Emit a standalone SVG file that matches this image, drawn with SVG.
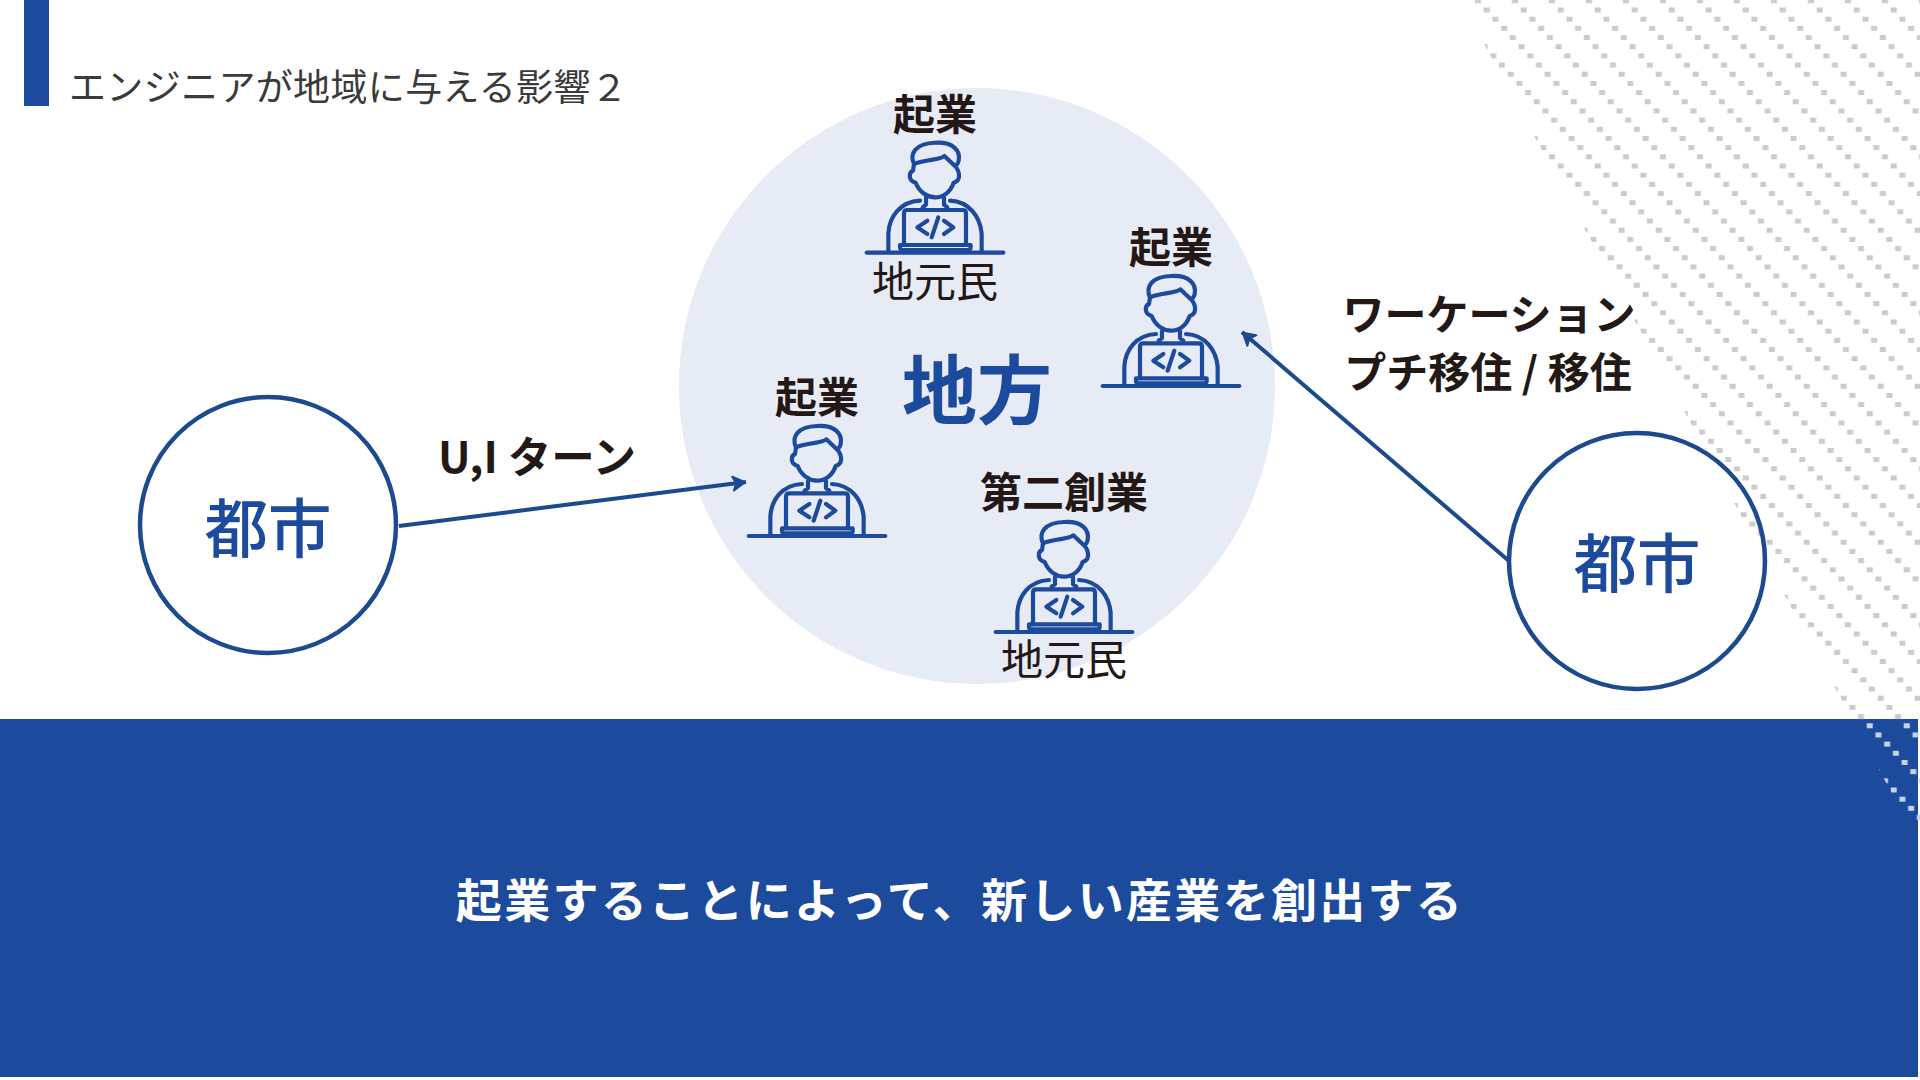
<svg xmlns="http://www.w3.org/2000/svg" width="1920" height="1080" viewBox="0 0 1920 1080">
<style>
text{font-family:"Noto Sans CJK JP","Noto Sans",sans-serif}
.k{fill:#231815}
.b{font-weight:700;font-size:42px;text-anchor:middle}
.r{font-weight:400;font-size:42px;text-anchor:middle}
.city{fill:#1c4a9c;font-size:63.5px;font-weight:500;text-anchor:middle}
.ring{fill:none;stroke:#1c4a8f;stroke-width:4.5}
.ic{fill:none;stroke:#1c4a9c;stroke-width:12.5;stroke-linecap:round;stroke-linejoin:round}
.con{fill:none;stroke:#1c4a8f;stroke-width:4}
</style>
<defs>
<g id="tile">
<rect x="1" y="0.5" width="6" height="5"/><rect x="9.71" y="9.68" width="6" height="5"/><rect x="18.41" y="18.85" width="6" height="5"/><rect x="27.12" y="28.03" width="6" height="5"/><rect x="35.82" y="37.21" width="6" height="5"/><rect x="-1.18" y="37.21" width="6" height="5"/><rect x="7.53" y="46.38" width="6" height="5"/><rect x="16.24" y="55.56" width="6" height="5"/><rect x="24.94" y="64.74" width="6" height="5"/><rect x="33.65" y="73.91" width="6" height="5"/><rect x="-3.35" y="73.91" width="6" height="5"/><rect x="5.35" y="83.09" width="6" height="5"/><rect x="14.06" y="92.26" width="6" height="5"/><rect x="22.76" y="101.44" width="6" height="5"/><rect x="31.47" y="110.62" width="6" height="5"/><rect x="-5.53" y="110.62" width="6" height="5"/><rect x="3.18" y="119.79" width="6" height="5"/><rect x="11.88" y="128.97" width="6" height="5"/><rect x="20.59" y="138.15" width="6" height="5"/><rect x="29.29" y="147.32" width="6" height="5"/>
</g>
<pattern id="dg" patternUnits="userSpaceOnUse" width="37" height="156" patternTransform="translate(1482.7 7)"><use href="#tile" fill="#cbcbcb"/></pattern>
<pattern id="dl" patternUnits="userSpaceOnUse" width="37" height="156" patternTransform="translate(1482.7 7)"><use href="#tile" fill="#c9d2e5"/></pattern>
<marker id="ah" markerUnits="userSpaceOnUse" markerWidth="20" markerHeight="20" refX="15" refY="10" orient="auto"><path d="M2 3L14 10L2 17L5 10Z" fill="#1c4a8f" stroke="#1c4a8f" stroke-width="2" stroke-linejoin="round"/></marker>
<g id="eng" transform="scale(.3333) translate(-285 -368)">
<path class="ic" d="M222 102C208 72 225 40 285 38C340 35 362 62 356 92C354 102 348 108 343 106L313 78C298 92 260 86 222 102Z"/>
<path class="ic" d="M222 102L219 122C205 128 205 152 227 158C238 186 262 202 285 202C310 202 332 186 341 158C362 152 362 128 345 107"/>
<path class="ic" d="M258 203V224L248 232M312 203V224L322 232"/>
<path class="ic" d="M145 362V310C148 260 180 215 240 212M425 362V310C420 260 388 215 330 212"/>
<path class="ic" d="M192 345V250Q192 240 202 240H368Q378 240 378 250V345"/>
<path class="ic" d="M180 345H392V352Q392 360 384 360H188Q180 360 180 352Z"/>
<path class="ic" d="M262 272L232 292L262 312M312 272L340 292L312 312M295 262L275 322"/>
<path class="ic" d="M80 368H490"/>
</g>
</defs>
<rect width="1920" height="1080" fill="#fff"/>
<g id="decor">
<polygon points="1460,0 1920,0 1920,719 1852,719" fill="url(#dg)"/>
<rect y="719" width="1918" height="358" fill="#1c4a9c"/>
<polygon points="1852,719 1920,719 1920,846" fill="url(#dl)"/>
<rect x="24" width="25" height="106" fill="#1c4a9c"/>
<text x="69" y="101" font-size="37" letter-spacing=".35" fill="#3a3a3a">エンジニアが地域に与える影響２</text>
<text x="960" y="917" font-size="46" font-weight="700" fill="#fff" text-anchor="middle" letter-spacing="2.3">起業することによって、新しい産業を創出する</text>
</g>
<g id="region"><circle cx="977" cy="386" r="298" fill="#e6ebf5"/><text x="977" y="418" font-size="75" font-weight="700" fill="#1c4a9c" text-anchor="middle">地方</text></g>
<g id="city-left"><circle class="ring" cx="268" cy="525" r="128"/><text class="city" x="268" y="552">都市</text></g>
<g id="city-right"><circle class="ring" cx="1637" cy="561" r="128"/><text class="city" x="1637" y="587">都市</text></g>
<g id="connectors">
<path class="con" d="M399 526L746 482" marker-end="url(#ah)"/>
<path class="con" d="M1509 561L1242 332" marker-end="url(#ah)"/>
</g>
<g id="label-ui"><text class="k b" x="537" y="473" style="font-size:43.5px">U,I ターン</text></g>
<g id="label-work"><text class="k b" x="1489" y="330">ワーケーション</text><text class="k b" x="1488" y="388">プチ移住 / 移住</text></g>
<g id="eng1"><use href="#eng" transform="translate(935 252.7)"/><text class="k b" x="935" y="130">起業</text><text class="k r" x="935" y="297">地元民</text></g>
<g id="eng2"><use href="#eng" transform="translate(1171 386)"/><text class="k b" x="1171" y="263">起業</text></g>
<g id="eng3"><use href="#eng" transform="translate(817 536)"/><text class="k b" x="817" y="413">起業</text></g>
<g id="eng4"><use href="#eng" transform="translate(1064 632)"/><text class="k b" x="1064" y="508">第二創業</text><text class="k r" x="1064" y="675">地元民</text></g>
</svg>
